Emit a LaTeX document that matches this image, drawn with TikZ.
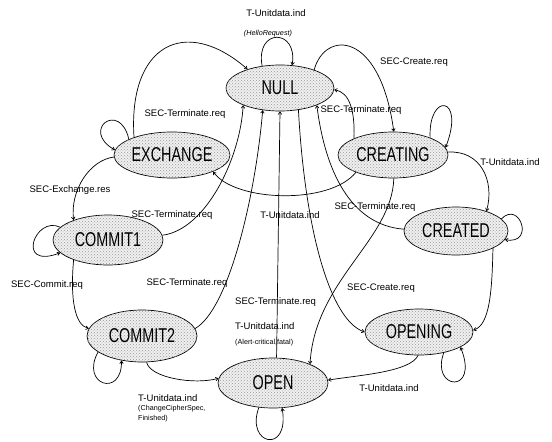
\documentclass[tikz,border=0pt]{standalone}
\usepackage{fontspec}
\setmainfont{Liberation Sans}
\newfontfamily\statefont[FakeStretch=0.72]{Liberation Sans}
\usetikzlibrary{shapes.geometric,arrows.meta,patterns}
\begin{document}
\begin{tikzpicture}[x=1pt,y=-1pt,
  state/.style={ellipse, draw, line width=0.7pt, inner sep=0pt, fill=gray!12,
    postaction={pattern=crosshatch dots, pattern color=gray!80},
    font=\statefont\fontsize{20}{20}\selectfont},
  lbl/.style={font=\fontsize{9.5}{10}\selectfont, inner sep=0pt},
  small/.style={font=\fontsize{7.2}{8}\selectfont, inner sep=0pt},
  tr/.style={draw, line width=0.7pt, -{Straight Barb[length=2.5pt,width=3.5pt]}},
]
\useasboundingbox (0,0) rectangle (552,442);

% states
\node[state, minimum width=108, minimum height=46] (NULL) at (280,88) {NULL};
\node[state, minimum width=116, minimum height=46] (EXCHANGE) at (172,155) {EXCHANGE};
\node[state, minimum width=110, minimum height=46] (CREATING) at (393,155) {CREATING};
\node[state, minimum width=110, minimum height=50] (COMMIT1) at (108,240) {COMMIT1};
\node[state, minimum width=104, minimum height=48] (CREATED) at (456,231) {CREATED};
\node[state, minimum width=110, minimum height=52] (COMMIT2) at (142,336) {COMMIT2};
\node[state, minimum width=108, minimum height=46] (OPENING) at (419,332) {OPENING};
\node[state, minimum width=110, minimum height=50] (OPEN) at (273,383) {OPEN};

% self loops
\draw[tr] (NULL.129) .. controls (255,28) and (298,28) .. (NULL.62);
\draw[tr] (EXCHANGE.160) .. controls (120,100) and (80,130) .. (EXCHANGE.175);
\draw[tr] (COMMIT1.165) .. controls (35,215) and (15,270) .. (COMMIT1.195);
\draw[tr] (COMMIT2.200) .. controls (80,385) and (122,398) .. (COMMIT2.230);
\draw[tr] (OPEN.240) .. controls (245,445) and (290,455) .. (OPEN.290);
\draw[tr] (OPENING.320) .. controls (430,390) and (480,395) .. (OPENING.340);
\draw[tr] (CREATED.15) .. controls (520,200) and (535,245) .. (CREATED.350);
\draw[tr] (CREATING.25) .. controls (428,92) and (466,95) .. (CREATING.8);

% transitions
\draw[tr] (EXCHANGE.155) .. controls (128,45) and (185,15) .. (NULL.150);
\draw[tr] (EXCHANGE.182) .. controls (90,160) and (70,190) .. (COMMIT1.150);
\draw[tr] (COMMIT1.5) .. controls (205,230) and (240,160) .. (NULL.205);
\draw[tr] (COMMIT1.210) .. controls (70,300) and (75,325) .. (COMMIT2.172);
\draw[tr] (COMMIT2.8) .. controls (228,310) and (255,200) .. (NULL.232);
\draw[tr] (COMMIT2.280) .. controls (150,378) and (195,385) .. (OPEN.175);
\draw[tr] (OPENING.268) .. controls (410,372) and (360,375) .. (OPEN.3);
\draw[tr] (CREATED.335) .. controls (492,290) and (490,325) .. (OPENING.2);
\draw[tr] (CREATING.3) .. controls (480,150) and (495,180) .. (CREATED.33);
\draw[tr] (NULL.28) .. controls (325,30) and (380,30) .. (CREATING.88);
\draw[tr] (CREATING.157) .. controls (355,112) and (350,92) .. (NULL.358);
\draw[tr] (CREATED.178) .. controls (350,225) and (325,170) .. (NULL.335);
\draw[tr] (CREATING.205) .. controls (330,205) and (235,202) .. (EXCHANGE.338);
\draw[tr] (OPEN.82) -- (NULL.270);
\draw[tr] (NULL.310) .. controls (305,230) and (330,320) .. (OPENING.180);
\draw[tr] (CREATING.272) .. controls (392,240) and (315,280) .. (OPEN.27);

% labels
\node[lbl] (l1) at (276,13) {T-Unitdata.ind};
\node[small, font=\fontsize{7.2}{8}\selectfont\itshape] (l2) at (268,34) {(HelloRequest)};
\node[lbl] (l3) at (414,62) {SEC-Create.req};
\node[lbl] (l4) at (185,114) {SEC-Terminate.req};
\node[lbl] (l5) at (361,110) {SEC-Terminate.req};
\node[lbl] (l6) at (510,162) {T-Unitdata.ind};
\node[lbl] (l7) at (70,190) {SEC-Exchange.res};
\node[lbl] (l8) at (375,207) {SEC-Terminate.req};
\node[lbl] (l9) at (172,215) {SEC-Terminate.req};
\node[lbl] (l10) at (290,215) {T-Unitdata.ind};
\node[lbl] (l11) at (47,285) {SEC-Commit.req};
\node[lbl] (l12) at (187,283) {SEC-Terminate.req};
\node[lbl] (l13) at (381,288) {SEC-Create.req};
\node[lbl, anchor=west] (l14) at (235,302) {SEC-Terminate.req};
\node[lbl, anchor=west] (l15) at (235,326) {T-Unitdata.ind};
\node[small, anchor=west] (l16) at (235,343) {(Alert-critical,fatal)};
\node[lbl] (l17) at (389,388) {T-Unitdata.ind};
\node[lbl, anchor=west] (l18) at (138,398) {T-Unitdata.ind};
\node[small, anchor=west] (l19) at (138,409) {(ChangeCipherSpec,};
\node[small, anchor=west] (l20) at (138,419) {Finished)};
\end{tikzpicture}
\end{document}
